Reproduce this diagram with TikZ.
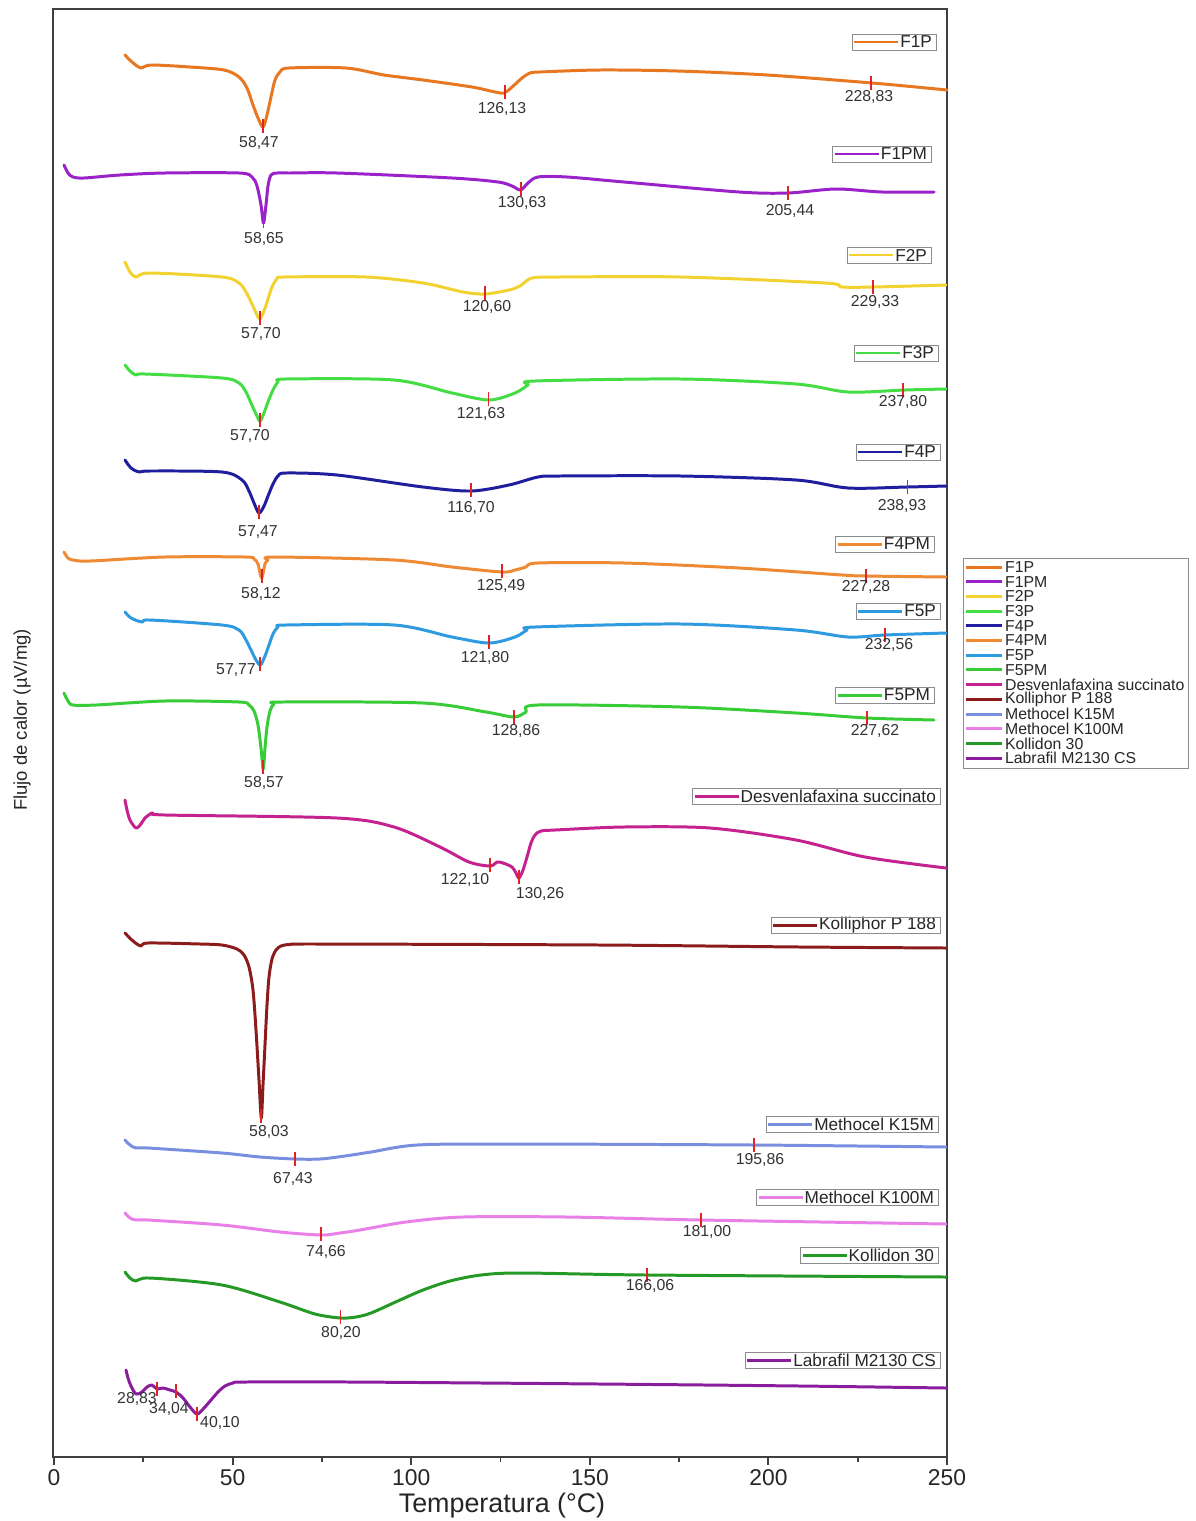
\documentclass[tikz,border=0pt]{standalone}
\usepackage{fontspec}
\setmainfont{Liberation Sans}
\usetikzlibrary{calc}

\definecolor{cFoneP}{HTML}{E87722}
\definecolor{cFonePM}{HTML}{9A22C8}
\definecolor{cFtwoP}{HTML}{F2D230}
\definecolor{cFthreeP}{HTML}{44DD44}
\definecolor{cFfourP}{HTML}{1E1E9E}
\definecolor{cFfourPM}{HTML}{EE8A33}
\definecolor{cFfiveP}{HTML}{2E9AE0}
\definecolor{cFfivePM}{HTML}{38CC38}
\definecolor{cDesv}{HTML}{C4228F}
\definecolor{cKolliphor}{HTML}{8C1C1C}
\definecolor{cKfifteen}{HTML}{7A8EE0}
\definecolor{cKhundred}{HTML}{E880E8}
\definecolor{cKollidon}{HTML}{259925}
\definecolor{cLabrafil}{HTML}{8A1C9E}
\definecolor{cMark}{HTML}{E02424}

% peak mark: name, T, y on curve, text, label x, label y
\newcommand{\peak}[6]{%
  \draw[pkmark] ({54+3.572*(#2)},{#3-7}) -- ({54+3.572*(#2)},{#3+7});
  \node[plab] (#1) at (#5,#6) {#4};}
% key inside the plot: name, colour, right x, y, text
\newcommand{\inkey}[5]{%
  \node[keytext, anchor=east] (#1) at (#3,#4) {#5};
  \draw[keybox] ($(#1.west)+(-46,-8)$) rectangle ($(#1.east)+(2,8)$);
  \draw[trace, #2, line cap=butt] ($(#1.west)+(-44,0)$) -- (#1.west);}

\begin{document}
\begin{tikzpicture}[x=0.02cm, y=-0.02cm,
    frame/.style={draw=black!75, line width=1.1pt},
    trace/.style={line width=1.7pt, line join=round, line cap=round},
    pkmark/.style={draw=cMark, line width=1.1pt},
    plab/.style={text=black!80, font=\fontsize{9}{10}\selectfont, inner sep=0pt},
    keytext/.style={text=black!85, font=\fontsize{9.8}{11}\selectfont, inner sep=1pt},
    keybox/.style={draw=black!45, line width=0.5pt},
    crv/.style={trace, smooth, tension=0.5}
  ]
  \useasboundingbox[fill=white] (0,0) rectangle (1196,1521);

  % frame and axis
  \draw[frame] (53,9) rectangle (947,1457);
  \foreach \t in {0,50,...,250} {
    \draw[frame] ({54+3.572*\t},1457) -- ++(0,8);
    \node[font=\fontsize{13}{15}\selectfont, text=black!85] (tk\t) at ({54+3.572*\t},1478) {\t};
  }
  \foreach \t in {25,75,...,225}
    \draw[frame] ({54+3.572*\t},1457) -- ++(0,5);
  \node[font=\fontsize{15.3}{17}\selectfont, text=black!85] (xtitle) at (502,1506) {Temperatura (°C)};
  \node[font=\fontsize{10.5}{12}\selectfont, text=black!85, rotate=90] (ytitle) at (22,720) {Flujo de calor (µV/mg)};

  % F1P
  \draw[crv, cFoneP] plot coordinates {(125,55) (132,62) (141,68) (151,65) (190,67) (224,70) (239,77) (247,88) (253,105) (258,118) (263,127) (267,115) (271,97) (275,80) (280,72) (289,68) (346,68) (384,75) (423,80) (472,87) (495,92) (504,93) (511,88) (522,78) (530,73) (540,72) (600,70) (677,71) (767,75) (872,83) (947,90)};
  \peak{pa1}{58.47}{126}{58,47}{259}{143}
  \peak{pa2}{126.13}{92}{126,13}{502}{109}
  \peak{pa3}{228.83}{83}{228,83}{869}{97}
  \inkey{kF1P}{cFoneP}{934}{42}{F1P}

  % F1PM
  \draw[crv, cFonePM] plot coordinates {(64,165) (68,173) (73,177) (84,178) (120,175) (165,173) (239,173) (252,177) (257,186) (261,205) (263.5,223) (266,205) (268,186) (271,175) (277,173) (290,173) (337,173) (452,178) (498,182) (512,186) (520.6,190) (528,183) (538,177) (567,177) (624,182) (739,192) (788,193) (836,189) (882,192) (934,192)};
  \peak{pb1}{58.65}{221}{58,65}{264}{239}
  \peak{pb2}{130.63}{189}{130,63}{522}{203}
  \peak{pb3}{205.44}{193}{205,44}{790}{211}
  \inkey{kF1PM}{cFonePM}{929}{154}{F1PM}

  % F2P
  \draw[crv, cFtwoP] plot coordinates {(125,262) (130,272) (136,277) (150,273) (222,277) (239,283) (246,292) (252,304) (257,315) (260,319) (264,311) (268,299) (272,287) (277,279) (285,277) (366,277) (423,283) (463,292) (485,294) (509,290) (520,286) (532,278) (560,277) (681,277) (825,283) (842,287) (874,287) (946,285)};
  \peak{pc1}{57.70}{318}{57,70}{261}{334}
  \peak{pc2}{120.60}{293}{120,60}{487}{307}
  \peak{pc3}{229.33}{287}{229,33}{875}{302}
  \inkey{kF2P}{cFtwoP}{929}{255}{F2P}

  % F3P
  \draw[crv, cFthreeP] plot coordinates {(125,365) (130,371) (136,375) (145,374) (222,378) (239,383) (246,392) (251,403) (256,414) (260,421) (264,413) (268,402) (273,390) (278,382) (286,379) (394,380) (452,393) (489,400) (515,393) (528,385) (535,381) (681,379) (796,384) (848,392) (905,390) (946,389)};
  \peak{pd1}{57.70}{420}{57,70}{250}{436}
  \peak{pd2}{121.63}{399}{121,63}{481}{414}
  \peak{pd3}{237.80}{390}{237,80}{903}{402}
  \inkey{kF3P}{cFthreeP}{936}{353}{F3P}

  % F4P
  \draw[crv, cFfourP] plot coordinates {(125,460) (131,468) (139,472) (150,471) (222,472) (242,480) (249,491) (254,503) (259,513) (264,506) (268,496) (273,484) (278,476) (286,473) (337,475) (423,487) (471,491) (509,485) (538,477) (560,476) (681,476) (796,480) (848,488) (907,487) (946,486)};
  \peak{pe1}{57.47}{512}{57,47}{258}{532}
  \peak{pe2}{116.70}{490}{116,70}{471}{508}
  \peak{pe3}{238.93}{487}{238,93}{902}{506}
  \inkey{kF4P}{cFfourP}{938}{452}{F4P}

  % F4PM
  \draw[crv, cFfourPM] plot coordinates {(64,552) (68,558) (73,560) (90,561) (165,557) (245,557) (254,559) (258,564) (261.6,578) (265,564) (268,560) (274,557) (394,560) (452,567) (502,572) (515,570) (526,567) (538,563) (624,563) (739,568) (842,575) (866,576) (946,577)};
  \peak{pf1}{58.12}{576}{58,12}{261}{594}
  \peak{pf2}{125.49}{571}{125,49}{501}{586}
  \peak{pf3}{227.28}{576}{227,28}{866}{587}
  \inkey{kF4PM}{cFfourPM}{932}{544}{F4PM}

  % F5P
  \draw[crv, cFfiveP] plot coordinates {(125,612) (131,618) (142,622) (150,620) (222,625) (239,630) (246,640) (251,650) (256,660) (260.4,665) (265,656) (269,645) (273,634) (278,627) (286,625) (394,625) (452,637) (489,643) (515,637) (527,630) (535,627) (681,624) (796,630) (848,637) (885,635) (946,633)};
  \peak{pg1}{57.77}{664}{57,77}{236}{670}
  \peak{pg2}{121.80}{642}{121,80}{485}{658}
  \peak{pg3}{232.56}{635}{232,56}{889}{645}
  \inkey{kF5P}{cFfiveP}{938}{611}{F5P}

  % F5PM
  \draw[crv, cFfivePM] plot coordinates {(64,693) (68,701) (73,705) (96,705) (165,701) (239,702) (249,705) (254,711) (258,725) (261,748) (263.2,769) (265,748) (267,727) (270,711) (274,704) (282,702) (423,703) (486,712) (514,717) (526,712) (538,705) (681,707) (796,713) (867,718) (934,720)};
  \peak{ph1}{58.57}{767}{58,57}{264}{783}
  \peak{ph2}{128.86}{717}{128,86}{516}{731}
  \peak{ph3}{227.62}{718}{227,62}{875}{731}
  \inkey{kF5PM}{cFfivePM}{932}{695}{F5PM}

  % Desvenlafaxina succinato
  \draw[crv, cDesv] plot coordinates {(125,800) (127,810) (130,820) (136,828) (141,824) (145,818) (153,813) (165,815) (337,818) (394,827) (440,847) (469,862) (490,866) (497,862) (503,863) (512,867) (516,873) (519,878) (523,870) (527,857) (531,843) (535,835) (541,831) (555,830) (624,827) (710,828) (796,840) (865,857) (946,868)};
  \peak{pi1}{122.10}{865}{122,10}{465}{880}
  \peak{pi2}{130.26}{877}{130,26}{540}{894}
  \inkey{kDesv}{cDesv}{938}{796}{Desvenlafaxina succinato}

  % Kolliphor P 188
  \draw[crv, cKolliphor] plot coordinates {(125,933) (133,941) (141,946) (148,943) (200,944) (222,945) (237,949) (244,955) (249,967) (253,990) (256,1030) (259,1080) (261.3,1118) (263,1085) (265,1045) (267,1005) (269,977) (272,959) (276,950) (281,946) (290,944.5) (320,944) (600,945) (800,947) (946,948)};
  \peak{pj1}{58.03}{1116}{58,03}{269}{1132}
  \inkey{kKolliphor}{cKolliphor}{938}{925}{Kolliphor P 188}

  % Methocel K15M
  \draw[crv, cKfifteen] plot coordinates {(125,1140) (130,1145) (136,1148) (148,1148) (222,1153) (260,1157) (295,1159) (320,1159) (345,1156) (371,1152) (417,1145) (509,1144) (754,1145) (946,1147)};
  \peak{pk1}{67.43}{1159}{67,43}{293}{1179}
  \peak{pk2}{195.86}{1145}{195,86}{760}{1160}
  \inkey{kKfifteen}{cKfifteen}{936}{1124}{Methocel K15M}

  % Methocel K100M
  \draw[crv, cKhundred] plot coordinates {(125,1213) (130,1218) (136,1220) (148,1220) (222,1225) (280,1232) (321,1235) (340,1233) (360,1230) (406,1222) (463,1217) (567,1217) (701,1220) (946,1224)};
  \peak{pl1}{74.66}{1234}{74,66}{326}{1252}
  \peak{pl2}{181.00}{1220}{181,00}{707}{1232}
  \inkey{kKhundred}{cKhundred}{936}{1197}{Methocel K100M}

  % Kollidon 30
  \draw[crv, cKollidon] plot coordinates {(125,1272) (130,1278) (136,1281) (150,1278) (222,1285) (280,1302) (315,1314) (340.5,1318) (356,1317) (371,1313) (400,1300) (423,1290) (450,1281) (481,1275) (521,1273) (647,1275) (946,1277)};
  \peak{pm1}{80.20}{1317}{80,20}{341}{1333}
  \peak{pm2}{166.06}{1275}{166,06}{650}{1286}
  \inkey{kKollidon}{cKollidon}{936}{1255}{Kollidon 30}

  % Labrafil M2130 CS
  \draw[crv, cLabrafil] plot coordinates {(126,1370) (128,1378) (131,1386) (136,1394) (142,1392) (147,1387) (152,1385) (157,1389) (163,1388) (170,1390) (176,1392) (183,1398) (190,1407) (197,1414) (204,1408) (211,1400) (218,1392) (225,1386) (233,1383) (245,1382) (350,1382) (600,1384) (800,1386) (946,1388)};
  \peak{pn1}{28.83}{1389}{28,83}{137}{1399}
  \peak{pn2}{34.04}{1391}{34,04}{169}{1409}
  \peak{pn3}{40.10}{1414}{40,10}{220}{1423}
  \inkey{kLabrafil}{cLabrafil}{938}{1360}{Labrafil M2130 CS}

  % legend at right
  \draw[keybox] (963,558) rectangle (1188,768);
  \foreach \c/\t [count=\i from 0] in {cFoneP/F1P, cFonePM/F1PM, cFtwoP/F2P, cFthreeP/F3P, cFfourP/F4P, cFfourPM/F4PM, cFfiveP/F5P, cFfivePM/F5PM, cDesv/Desvenlafaxina succinato, cKolliphor/Kolliphor P 188, cKfifteen/Methocel K15M, cKhundred/Methocel K100M, cKollidon/Kollidon 30, cLabrafil/Labrafil M2130 CS} {
    \draw[trace, \c, line cap=butt] (966,{567+14.7*\i}) -- (1002,{567+14.7*\i});
    \node[keytext, anchor=west, font=\fontsize{9}{10}\selectfont] (lg\i) at (1003,{567+14.7*\i}) {\t};
  }
\end{tikzpicture}
\end{document}
